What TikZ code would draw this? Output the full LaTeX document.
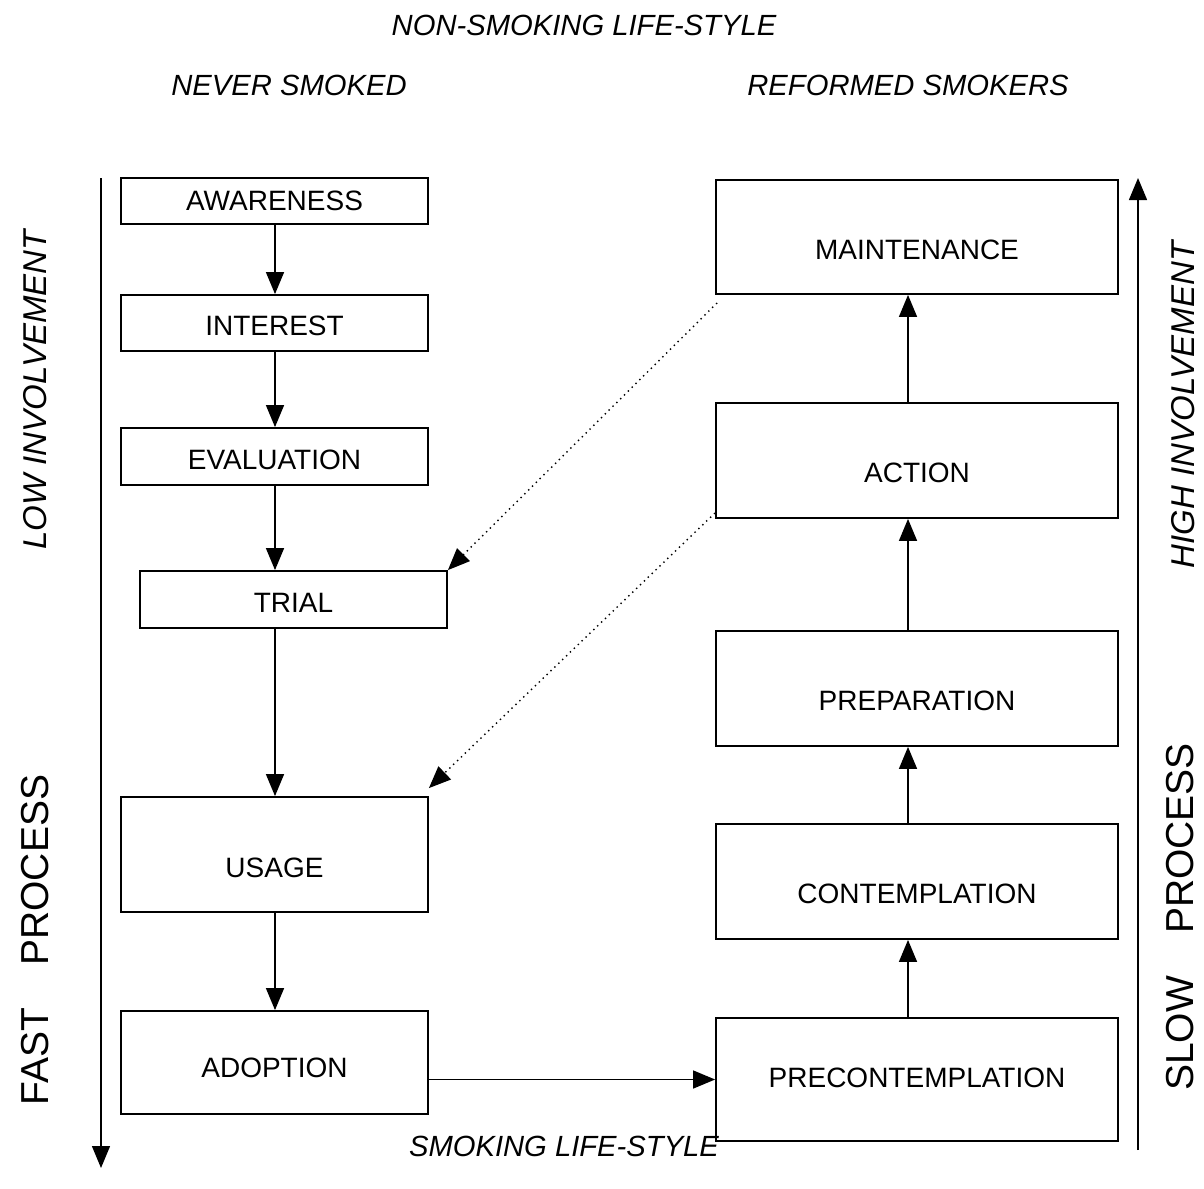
\documentclass[tikz,border=0pt]{standalone}
\usepackage{fontspec}
\setmainfont{Liberation Sans}
\usetikzlibrary{arrows.meta}
\begin{document}
\begin{tikzpicture}[x=0.5pt,y=-0.5pt,
  box/.style={draw,line width=0.9pt,inner sep=0pt},
  txt/.style={font=\fontsize{14}{16}\selectfont,inner sep=0pt},
  arr/.style={line width=0.7pt,-{Triangle[length=11pt,width=9pt]}},
  dot/.style={line width=0.7pt,dotted,-{Triangle[length=11pt,width=9pt]}},
  lab/.style={font=\fontsize{14.6}{17}\selectfont\itshape},
  rlab/.style={font=\fontsize{16.5}{19}\selectfont\itshape,rotate=90},
  big/.style={font=\fontsize{19.5}{22}\selectfont,rotate=90}]
\useasboundingbox (0,0) rectangle (1204,1188);
% left boxes
\node[box,minimum width=153.5pt,minimum height=23pt] (aw) at (274.5,201) {};
\node[box,minimum width=153.5pt,minimum height=28pt] (in) at (274.5,323) {};
\node[box,minimum width=153.5pt,minimum height=28.5pt] (ev) at (274.5,456.5) {};
\node[box,minimum width=153.5pt,minimum height=28.5pt] (tr) at (293.5,599.5) {};
\node[box,minimum width=153.5pt,minimum height=57.5pt] (us) at (274.5,854.5) {};
\node[box,minimum width=153.5pt,minimum height=51.5pt] (ad) at (274.5,1062.5) {};
% right boxes
\node[box,minimum width=201pt,minimum height=57pt] (ma) at (917,237) {};
\node[box,minimum width=201pt,minimum height=57.5pt] (ac) at (917,460.5) {};
\node[box,minimum width=201pt,minimum height=57.5pt] (pr) at (917,688.5) {};
\node[box,minimum width=201pt,minimum height=57.5pt] (co) at (917,881.5) {};
\node[box,minimum width=201pt,minimum height=61.5pt] (pc) at (917,1079.5) {};
% box texts
\node[txt] (awt) at ([yshift=0pt]aw.center) {AWARENESS};
\node[txt] (int) at ([yshift=-1.5pt]in.center) {INTEREST};
\node[txt] (evt) at ([yshift=-1.5pt]ev.center) {EVALUATION};
\node[txt] (trt) at ([yshift=-1.5pt]tr.center) {TRIAL};
\node[txt] (ust) at ([yshift=-6.5pt]us.center) {USAGE};
\node[txt] (adt) at ([yshift=-2.5pt]ad.center) {ADOPTION};
\node[txt] (mat) at ([yshift=-6.5pt]ma.center) {MAINTENANCE};
\node[txt] (act) at ([yshift=-6pt]ac.center) {ACTION};
\node[txt] (prt) at ([yshift=-6pt]pr.center) {PREPARATION};
\node[txt] (cot) at ([yshift=-6pt]co.center) {CONTEMPLATION};
\node[txt] (pct) at ([yshift=1pt]pc.center) {PRECONTEMPLATION};
% left chain
\draw[arr] (aw.south -| 275,0) -- (in.north -| 275,0);
\draw[arr] (in.south -| 275,0) -- (ev.north -| 275,0);
\draw[arr] (ev.south -| 275,0) -- (tr.north -| 275,0);
\draw[arr] (tr.south -| 275,0) -- (us.north -| 275,0);
\draw[arr] (us.south -| 275,0) -- (ad.north -| 275,0);
\draw[arr] (ad.east |- pc.west) -- (pc.west);
% right chain
\draw[arr] (pc.north -| 908,0) -- (co.south -| 908,0);
\draw[arr] (co.north -| 908,0) -- (pr.south -| 908,0);
\draw[arr] (pr.north -| 908,0) -- (ac.south -| 908,0);
\draw[arr] (ac.north -| 908,0) -- (ma.south -| 908,0);
% dotted
\coordinate (d1) at (717,303);
\coordinate (d2) at (715,513);
\draw[dot] (d1) -- (tr.north east);
\draw[dot] (d2) -- ([yshift=4pt]us.north east);
% side arrows
\coordinate (la1) at (101,178);
\coordinate (la2) at (101,1168);
\draw[arr] (la1) -- (la2);
\coordinate (ra1) at (1138,1150);
\coordinate (ra2) at (1138,178);
\draw[arr] (ra1) -- (ra2);
% labels
\node[lab] (t1) at (584,25) {NON-SMOKING LIFE-STYLE};
\node[lab] (t2) at (289,85) {NEVER SMOKED};
\node[lab] (t3) at (908,85) {REFORMED SMOKERS};
\node[lab] (t4) at (564,1146) {SMOKING LIFE-STYLE};
\node[rlab] (t5) at (35,390) {LOW INVOLVEMENT};
\node[rlab] (t6) at (1183,405) {HIGH INVOLVEMENT};
\node[big] (t7) at (35,940) {FAST\hspace{0.8em} PROCESS};
\node[big] (t8) at (1180,917) {SLOW\hspace{0.8em} PROCESS};
\end{tikzpicture}
\end{document}
